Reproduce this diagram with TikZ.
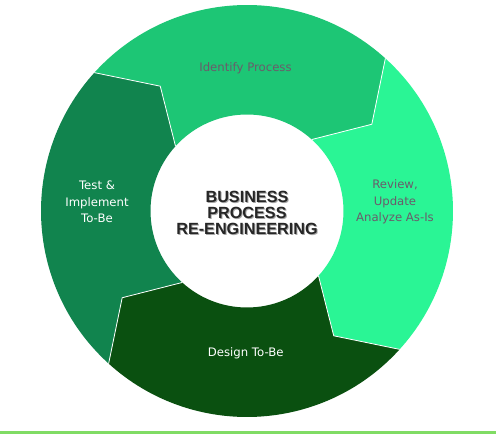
\documentclass[tikz,border=0pt]{standalone}
\usepackage{fontspec}
\setmainfont{Liberation Sans}
\newfontfamily\labelfont{DejaVu Sans}
\definecolor{cIdent}{RGB}{29,198,117}
\definecolor{cReview}{RGB}{42,245,149}
\definecolor{cDesign}{RGB}{10,80,16}
\definecolor{cTest}{RGB}{17,132,78}
\definecolor{cLabel}{RGB}{107,91,107}
\definecolor{cRule}{RGB}{128,220,100}
\newcommand\bprseg[3]{%
  \fill[#1] (#2:\Ro) arc[start angle=#2,end angle=#3,radius=\Ro]
    -- (#3-\off:\Rm) -- (#3:\Ri)
    arc[start angle=#3,end angle=#2,radius=\Ri]
    -- (#2-\off:\Rm) -- cycle;}
\newcommand\bprsep[1]{%
  \draw[sepline] (#1:\Ri) -- (#1-\off:\Rm) -- (#1:\Ro);}
\begin{document}
\begin{tikzpicture}[x=1pt,y=1pt,
  sepline/.style={white,line width=0.8pt,line join=round},
  darklabel/.style={text=cLabel,font=\labelfont\fontsize{11.7}{16.5}\selectfont,align=center},
  lightlabel/.style={text=white,font=\labelfont\fontsize{11.7}{16.5}\selectfont,align=center},
  titletext/.style={font=\bfseries\fontsize{16.2}{16}\selectfont,align=center}]
\useasboundingbox (0,0) rectangle (496,437);
\def\Ro{206}\def\Ri{96.5}\def\Rm{152}\def\off{13}
\begin{scope}[shift={(247,226)}]
  \bprseg{cIdent}{137.8}{47.8}
  \bprseg{cReview}{47.8}{-42.2}
  \bprseg{cDesign}{-42.2}{-132.2}
  \bprseg{cTest}{227.8}{137.8}
  \bprsep{47.8}
  \bprsep{-42.2}
  \bprsep{-132.2}
  \bprsep{137.8}
\end{scope}
\node[darklabel] (ident) at (245.5,369) {Identify Process};
\node[darklabel] (review) at (395,235) {Review,\\Update\\Analyze As-Is};
\node[lightlabel] (design) at (245.7,84) {Design To-Be};
\node[lightlabel] (test) at (97,235) {Test \&\\Implement\\To-Be};
\node[titletext,text=black!35] (titleshadow) at (248,223) {BUSINESS\\PROCESS\\RE-ENGINEERING};
\node[titletext,text=black!85] (title) at (247,224) {BUSINESS\\PROCESS\\RE-ENGINEERING};
\fill[cRule] (0,3) rectangle (496,6.3);
\end{tikzpicture}
\end{document}
